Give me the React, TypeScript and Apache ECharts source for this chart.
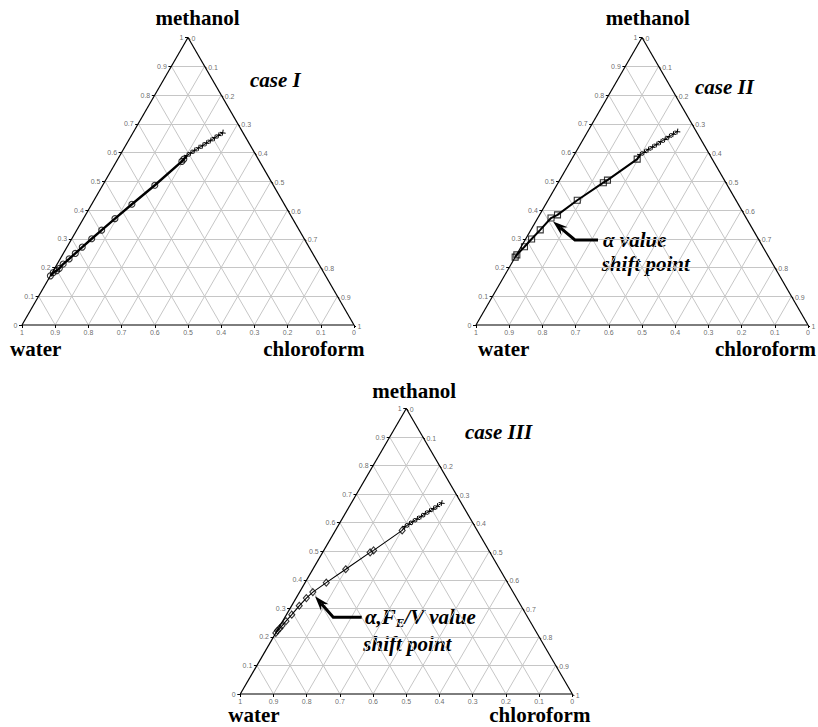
import React, { useEffect, useRef } from "react";
import * as echarts from "echarts";

// ---------- data (ternary compositions: [methanol fraction, chloroform fraction]) ----------
const TICK_VALUES = [0, 0.1, 0.2, 0.3, 0.4, 0.5, 0.6, 0.7, 0.8, 0.9, 1];
const TICK_LABELS = ["0", "0.1", "0.2", "0.3", "0.4", "0.5", "0.6", "0.7", "0.8", "0.9", "1"];

const CASE1_POINTS = [
  [0.171, 0.0], [0.182, 0.003], [0.189, 0.01], [0.197, 0.014], [0.212, 0.018],
  [0.23, 0.027], [0.249, 0.036], [0.271, 0.046], [0.3, 0.06], [0.33, 0.075],
  [0.37, 0.095], [0.42, 0.121], [0.486, 0.157], [0.569, 0.197], [0.577, 0.199],
];
const CASE1_CROSSES = [
  [0.589, 0.202], [0.598, 0.209], [0.607, 0.216], [0.616, 0.224], [0.624, 0.232],
  [0.633, 0.239], [0.642, 0.247], [0.651, 0.255], [0.66, 0.262], [0.669, 0.27],
];

const CASE2_POINTS = [
  [0.236, 0.0], [0.244, 0.001], [0.272, 0.01], [0.299, 0.018], [0.331, 0.028],
  [0.372, 0.04], [0.383, 0.054], [0.434, 0.088], [0.495, 0.136], [0.504, 0.144],
  [0.577, 0.197],
];
const CASE2_CROSSES = [
  [0.592, 0.198], [0.601, 0.206], [0.61, 0.214], [0.619, 0.222], [0.628, 0.23],
  [0.637, 0.238], [0.646, 0.246], [0.655, 0.254], [0.664, 0.262], [0.673, 0.27],
];

const CASE3_POINTS = [
  [0.214, 0.0], [0.222, 0.001], [0.23, 0.004], [0.239, 0.006], [0.255, 0.01],
  [0.278, 0.016], [0.309, 0.023], [0.336, 0.031], [0.357, 0.04], [0.39, 0.064],
  [0.437, 0.099], [0.496, 0.143], [0.503, 0.15], [0.573, 0.201],
];
const CASE3_CROSSES = [
  [0.586, 0.203], [0.595, 0.211], [0.604, 0.218], [0.613, 0.226], [0.622, 0.234],
  [0.631, 0.241], [0.64, 0.249], [0.649, 0.257], [0.658, 0.264], [0.669, 0.272],
];

// ---------- layout ----------
const TRIANGLES = [
  { left: 22, top: 37.5, width: 332, height: 287.5 },
  { left: 476, top: 37.5, width: 332, height: 287.5 },
  { left: 240.3, top: 408.5, width: 332, height: 285.5 },
];
const CASES = [
  { points: CASE1_POINTS, crosses: CASE1_CROSSES, symbol: "circle", symbolSize: 6, lineWidth: 2.4 },
  { points: CASE2_POINTS, crosses: CASE2_CROSSES, symbol: "rect", symbolSize: 6, lineWidth: 2 },
  { points: CASE3_POINTS, crosses: CASE3_CROSSES, symbol: "diamond", symbolSize: [6, 7], lineWidth: 1.1 },
];
// annotation arrows in axis units of the triangle: [tipX, tipY, cornerX, cornerY, endX, endY]
const ARROWS: Record<number, number[]> = {
  1: [0.232, 0.36, 0.298, 0.2957, 0.3675, 0.2957],
  2: [0.225, 0.342, 0.28, 0.2687, 0.3657, 0.2687],
};

const SERIF = '"Liberation Serif", "Times New Roman", serif';
const SANS = '"Liberation Sans", Arial, sans-serif';

const TEXTS = [
  { text: "methanol", x: 197.5, y: 18, align: "center", italic: false },
  { text: "water", x: 10, y: 349, align: "left", italic: false },
  { text: "chloroform", x: 263.3, y: 349, align: "left", italic: false },
  { text: "case I", x: 250, y: 80, align: "left", italic: true },
  { text: "methanol", x: 647.8, y: 18, align: "center", italic: false },
  { text: "water", x: 478, y: 349, align: "left", italic: false },
  { text: "chloroform", x: 715, y: 349, align: "left", italic: false },
  { text: "case II", x: 695, y: 87, align: "left", italic: true },
  { text: "α value", x: 603, y: 240, align: "left", italic: true },
  { text: "shift point", x: 601.7, y: 264, align: "left", italic: true },
  { text: "methanol", x: 414.2, y: 391, align: "center", italic: false },
  { text: "water", x: 228.3, y: 715.3, align: "left", italic: false },
  { text: "chloroform", x: 489.3, y: 715.3, align: "left", italic: false },
  { text: "case III", x: 465, y: 432, align: "left", italic: true },
  { text: "shift point", x: 363.3, y: 644, align: "left", italic: true },
];

const tern = (m: number, c: number) => [c + m / 2, m];

function buildOption() {
  const grid: any[] = [];
  const xAxis: any[] = [];
  const yAxis: any[] = [];
  const series: any[] = [];

  TRIANGLES.forEach((t, i) => {
    grid.push({ left: t.left, top: t.top, width: t.width, height: t.height, containLabel: false });
    xAxis.push({ type: "value", gridIndex: i, min: 0, max: 1, show: false });
    yAxis.push({ type: "value", gridIndex: i, min: 0, max: 1, show: false });
    const ax = { xAxisIndex: i, yAxisIndex: i };
    const dx = 1 / t.width;
    const dy = 1 / t.height;

    // inner grid lines
    const gridCoords: any[] = [];
    TICK_VALUES.slice(1, -1).forEach((v) => {
      gridCoords.push({ coords: [tern(v, 0), tern(v, 1 - v)] });
      gridCoords.push({ coords: [tern(0, v), tern(1 - v, v)] });
      gridCoords.push({ coords: [tern(0, 1 - v), tern(1 - v, 0)] });
    });
    series.push({
      type: "lines", coordinateSystem: "cartesian2d", ...ax, silent: true, z: 1,
      lineStyle: { color: "#c6c6c6", width: 1, opacity: 1 }, data: gridCoords,
    });
    // sides
    series.push({
      type: "lines", coordinateSystem: "cartesian2d", ...ax, silent: true, z: 3,
      lineStyle: { color: "#000", width: 1.2, opacity: 1 },
      data: [{ coords: [tern(0, 0), tern(1, 0)] }, { coords: [tern(1, 0), tern(0, 1)] }],
    });
    series.push({
      type: "lines", coordinateSystem: "cartesian2d", ...ax, silent: true, z: 2,
      lineStyle: { color: "#7d7d7d", width: 2.2, opacity: 1 },
      data: [{ coords: [tern(0, 0), tern(0, 1)] }],
    });
    // ticks
    const tickCoords: any[] = [];
    const labelData: any[] = [];
    const lbl = (pos: string, text: string, extra: any = {}) => ({
      show: true, position: pos, distance: 1.5, formatter: text,
      fontSize: 7, lineHeight: 7, color: "#444", fontFamily: SANS, ...extra,
    });
    TICK_VALUES.forEach((v, k) => {
      const L = tern(v, 0);
      const Lend = [L[0] - 3 * dx, L[1]];
      tickCoords.push({ coords: [L, Lend] });
      labelData.push({ value: Lend, label: lbl("left", TICK_LABELS[k]) });
      const R = tern(v, 1 - v);
      const Rend = [R[0] + 2 * dx, R[1] - 2 * dy];
      tickCoords.push({ coords: [R, Rend] });
      labelData.push({ value: Rend, label: lbl("right", TICK_LABELS[10 - k], { offset: [0, -1] }) });
      const B = tern(0, v);
      const Bend = [B[0], B[1] - 3 * dy];
      tickCoords.push({ coords: [B, Bend] });
      labelData.push({ value: Bend, label: lbl("bottom", TICK_LABELS[10 - k], { distance: 0.5 }) });
    });
    series.push({
      type: "lines", coordinateSystem: "cartesian2d", ...ax, silent: true, clip: false, z: 3,
      lineStyle: { color: "#000", width: 1, opacity: 1 }, data: tickCoords,
    });
    series.push({
      type: "scatter", ...ax, silent: true, clip: false, z: 4, symbolSize: 0.1,
      itemStyle: { color: "rgba(0,0,0,0)" }, data: labelData,
    });

    // data
    const cs = CASES[i];
    series.push({
      type: "line", ...ax, z: 6, clip: false,
      data: [...cs.points, cs.crosses[0]].map(([m, c]) => tern(m, c)),
      showSymbol: false, symbol: "none",
      lineStyle: { color: "#000", width: cs.lineWidth },
    });
    series.push({
      type: "scatter", ...ax, z: 7, clip: false,
      data: cs.points.map(([m, c]) => tern(m, c)),
      symbol: cs.symbol, symbolSize: cs.symbolSize,
      itemStyle: { color: "rgba(255,255,255,0)", borderColor: "#000", borderWidth: 1.1 },
    });
    series.push({
      type: "line", ...ax, z: 6, clip: false,
      data: cs.crosses.map(([m, c]) => tern(m, c)),
      symbol: "path://M0,5 L10,5 M5,0 L5,10", symbolSize: 6, showSymbol: true, symbolRotate: -10,
      itemStyle: { color: "none", borderColor: "#000", borderWidth: 1 },
      lineStyle: { color: "#000", width: 1 },
    });

    if (ARROWS[i]) {
      series.push({
        type: "custom", ...ax, z: 8, clip: false, silent: true,
        data: [ARROWS[i]],
        renderItem: (params: any, api: any) => {
          const tp = api.coord([api.value(0), api.value(1)]);
          const cp = api.coord([api.value(2), api.value(3)]);
          const ep = api.coord([api.value(4), api.value(5)]);
          const ddx = tp[0] - cp[0];
          const ddy = tp[1] - cp[1];
          const len = Math.hypot(ddx, ddy);
          const ux = ddx / len;
          const uy = ddy / len;
          const nx = -uy;
          const ny = ux;
          const L = 15;
          const W = 5;
          const base = [tp[0] - ux * L, tp[1] - uy * L];
          const notch = [tp[0] - ux * L * 0.65, tp[1] - uy * L * 0.65];
          return {
            type: "group",
            children: [
              {
                type: "polyline",
                shape: { points: [ep, cp, notch] },
                style: { stroke: "#000", lineWidth: 3, fill: null },
              },
              {
                type: "polygon",
                shape: {
                  points: [tp, [base[0] + nx * W, base[1] + ny * W], notch, [base[0] - nx * W, base[1] - ny * W]],
                },
                style: { fill: "#000" },
              },
            ],
          };
        },
      });
    }
  });

  const graphic: any[] = TEXTS.map((t) => ({
    type: "text",
    x: t.x,
    y: t.y,
    silent: true,
    style: {
      text: t.text,
      fontFamily: SERIF,
      fontWeight: "bold",
      fontStyle: t.italic ? "italic" : "normal",
      fontSize: 21,
      lineHeight: 16,
      fill: "#000",
      align: t.align,
      verticalAlign: "middle",
    },
  }));
  graphic.push({
    type: "text",
    x: 365,
    y: 617,
    silent: true,
    style: {
      text: "{a|α,F}{s|E}{a|/V value}",
      align: "left",
      verticalAlign: "middle",
      rich: {
        a: { fontFamily: SERIF, fontWeight: "bold", fontStyle: "italic", fontSize: 21, fill: "#000", lineHeight: 24, verticalAlign: "middle" },
        s: { fontFamily: SERIF, fontWeight: "bold", fontStyle: "italic", fontSize: 13, fill: "#000", lineHeight: 13, verticalAlign: "bottom" },
      },
    },
  });

  return { animation: false, backgroundColor: "#fff", grid, xAxis, yAxis, series, graphic };
}

export default function App() {
  const ref = useRef<HTMLDivElement>(null);
  useEffect(() => {
    if (!ref.current) return;
    const chart = echarts.init(ref.current, null, { renderer: "svg" });
    chart.setOption(buildOption() as any);
    return () => chart.dispose();
  }, []);
  return (
    <div
      ref={ref}
      style={{ position: "fixed", left: 0, top: 0, width: 818, height: 727, background: "#fff" }}
    />
  );
}
